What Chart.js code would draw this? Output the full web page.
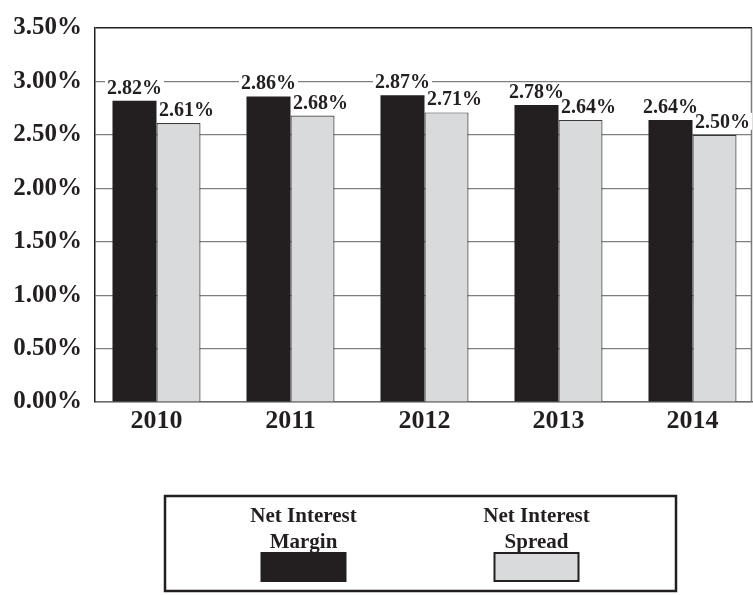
<!DOCTYPE html>
<html>
<head>
<meta charset="utf-8">
<script src="https://cdn.jsdelivr.net/npm/chart.js@4/dist/chart.umd.min.js"></script>
<style>
  html, body { margin: 0; padding: 0; background: #fff; }
  #wrap { width: 753px; height: 595px; }
</style>
</head>
<body>
<div id="wrap"><canvas id="graph" width="753" height="595"></canvas></div>
<script>
var years = ['2010', '2011', '2012', '2013', '2014'];
var marginVals = [2.82, 2.86, 2.87, 2.78, 2.64];
var spreadVals = [2.61, 2.68, 2.71, 2.64, 2.50];
var seriesNames = ['Net Interest Margin', 'Net Interest Spread'];
var yTicks = [0, 0.5, 1, 1.5, 2, 2.5, 3, 3.5];

const ink = '#231f20';
const lightGray = '#d9dadc';
const serif = "'Liberation Serif', 'Times New Roman', serif";

function pts(vals) {
    return vals.map(function (v, i) { return { x: i, y: v }; });
}

function pct(v) { return v.toFixed(2) + '%'; }

// value labels above the bars, white box behind so the grid stops at the text
var barLabels = {
    id: 'barLabels',
    afterDatasetsDraw: function (chart) {
        var ctx = chart.ctx;
        ctx.save();
        ctx.font = 'bold 20px ' + serif;
        ctx.textAlign = 'center';
        ctx.textBaseline = 'alphabetic';
        chart.data.datasets.forEach(function (ds, di) {
            var meta = chart.getDatasetMeta(di);
            var shift = di == 0 ? 0 : 8;
            meta.data.forEach(function (bar, j) {
                var txt = pct(ds.data[j].y);
                var w = ctx.measureText(txt).width;
                var x = bar.x + shift;
                var y = bar.y - 7;
                ctx.fillStyle = '#fff';
                ctx.fillRect(x - w / 2 - 2, y - 15, w + 4, 17);
                ctx.fillStyle = ink;
                ctx.fillText(txt, x, y);
            });
        });
        ctx.restore();
    }
};

// right edge of the frame
var frame = {
    id: 'frame',
    beforeDatasetsDraw: function (chart) {
        var a = chart.chartArea;
        var ctx = chart.ctx;
        ctx.save();
        ctx.strokeStyle = '#7a7a7a';
        ctx.lineWidth = 1.5;
        ctx.beginPath();
        ctx.moveTo(a.right - 0.5, a.top);
        ctx.lineTo(a.right - 0.5, a.bottom);
        ctx.stroke();
        ctx.restore();
    }
};

// boxed legend under the chart: two-line name above a colour swatch
var boxLegend = {
    id: 'boxLegend',
    afterDraw: function (chart) {
        var ctx = chart.ctx;
        var bx = 165, by = 496, bw = 511, bh = 95;
        var mid = bx + bw / 2;
        ctx.save();
        ctx.strokeStyle = ink;
        ctx.lineWidth = 2.5;
        ctx.strokeRect(bx, by, bw, bh);
        ctx.font = 'bold 21px ' + serif;
        ctx.textAlign = 'center';
        ctx.textBaseline = 'alphabetic';
        chart.data.datasets.forEach(function (ds, i) {
            var cx = mid + (i == 0 ? -117 : 116);
            var cut = ds.label.lastIndexOf(' ');
            ctx.fillStyle = ink;
            ctx.fillText(ds.label.slice(0, cut), cx, by + 26);
            ctx.fillText(ds.label.slice(cut + 1), cx, by + 52);
            ctx.fillStyle = ds.backgroundColor;
            ctx.fillRect(cx - 42, by + 57, 84, 28);
            ctx.strokeStyle = ink;
            ctx.lineWidth = 2;
            ctx.strokeRect(cx - 42, by + 57, 84, 28);
        });
        ctx.restore();
    }
};

var g = document.getElementById('graph').getContext('2d');

var graph = new Chart(g, {
    type: 'bar',
    data: {
        datasets: [{
            label: seriesNames[0],
            data: pts(marginVals),
            backgroundColor: ink,
            borderColor: ink,
            borderWidth: 0,
            categoryPercentage: 0.657,
            barPercentage: 1.0
        }, {
            label: seriesNames[1],
            data: pts(spreadVals),
            backgroundColor: lightGray,
            borderColor: '#3a3a3a',
            borderWidth: 1.2,
            categoryPercentage: 0.657,
            barPercentage: 1.0
        }]
    },
    plugins: [frame, barLabels, boxLegend],
    options: {
        responsive: false,
        animation: false,
        layout: { padding: { top: 18, right: 1, bottom: 153, left: 0 } },
        plugins: {
            legend: { display: false },
            tooltip: { enabled: false }
        },
        scales: {
            x: {
                type: 'linear',
                offset: false,
                min: -0.459,
                max: 4.444,
                afterBuildTicks: function (scale) {
                    scale.ticks = years.map(function (_, i) { return { value: i }; });
                },
                afterFit: function (scale) { scale.height = 40; },
                grid: { display: false, drawTicks: false },
                border: { display: true, color: '#6a6a6a', width: 1.5 },
                ticks: {
                    padding: 4,
                    color: ink,
                    font: { family: serif, size: 26, weight: 'bold' },
                    callback: function (v) { return years[v]; }
                }
            },
            y: {
                min: 0,
                max: 3.5,
                afterBuildTicks: function (scale) {
                    scale.ticks = yTicks.map(function (v) { return { value: v }; });
                },
                afterFit: function (scale) { scale.width = 95; },
                grid: {
                    // top line is part of the frame, darker than the rest
                    color: function (c) { return c.tick && c.tick.value == 3.5 ? ink : '#7f7f7f'; },
                    lineWidth: function (c) { return c.tick && c.tick.value == 3.5 ? 1.5 : 1.2; },
                    drawTicks: false
                },
                border: { display: true, color: ink, width: 1.5 },
                ticks: {
                    padding: 13,
                    color: ink,
                    font: { family: serif, size: 25, weight: 'bold' },
                    callback: function (v) { return pct(v); }
                }
            }
        }
    }
});
</script>
</body>
</html>
